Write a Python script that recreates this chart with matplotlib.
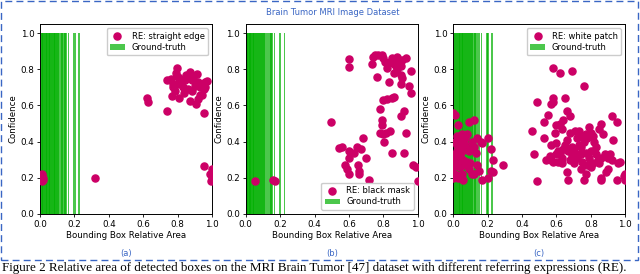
import numpy as np
import matplotlib.pyplot as plt
import matplotlib.patches as patches


# ground-truth relative areas (same dataset for all three panels)
gt_area = [0.004, 0.008, 0.011, 0.014, 0.018, 0.021, 0.025, 0.027, 0.031, 0.034,
           0.038, 0.041, 0.044, 0.048, 0.052, 0.055, 0.058, 0.062, 0.066, 0.069,
           0.073, 0.077, 0.081, 0.085, 0.088, 0.092, 0.097, 0.101, 0.105, 0.109,
           0.114, 0.121, 0.128, 0.133, 0.141, 0.146, 0.152, 0.166, 0.196, 0.203, 0.226]

# (a) RE: straight edge
a_x = [0.005, 0.010, 0.015, 0.010, 0.020, 0.012, 0.32, 0.62, 0.625, 0.735,
       0.74, 0.76, 0.775, 0.79, 0.795, 0.80, 0.81, 0.82, 0.83, 0.77, 0.785, 0.80,
       0.84, 0.85, 0.86, 0.87, 0.875, 0.88, 0.89, 0.90, 0.91, 0.92, 0.93, 0.94,
       0.95, 0.96, 0.97, 0.765, 0.81, 0.835, 0.87, 0.915, 0.93, 0.86, 0.905,
       0.95, 0.95, 1.0, 0.99, 0.995, 1.0, 0.82, 0.885, 0.94, 0.96]
a_y = [0.20, 0.22, 0.19, 0.21, 0.20, 0.185, 0.20, 0.64, 0.62, 0.57,
       0.74, 0.745, 0.72, 0.78, 0.805, 0.76, 0.75, 0.74, 0.70, 0.70, 0.68, 0.72,
       0.74, 0.77, 0.75, 0.785, 0.77, 0.74, 0.75, 0.71, 0.775, 0.73, 0.70, 0.72,
       0.69, 0.73, 0.735, 0.65, 0.64, 0.67, 0.625, 0.635, 0.66, 0.69, 0.61,
       0.56, 0.265, 0.25, 0.22, 0.185, 0.20, 0.735, 0.68, 0.66, 0.70]

# (b) RE: black mask
b_x = [0.055, 0.16, 0.17, 0.495, 0.60, 0.60, 0.54, 0.56, 0.575, 0.59, 0.60,
       0.60, 0.60, 0.63, 0.645, 0.67, 0.68, 0.65, 0.66, 0.66, 0.70, 0.715,
       0.735, 0.75, 0.77, 0.79, 0.80, 0.81, 0.76, 0.78, 0.79, 0.79, 0.78, 0.80,
       0.805, 0.815, 0.84, 0.80, 0.82, 0.85, 0.86, 0.85, 0.82, 0.83, 0.85, 0.86,
       0.87, 0.88, 0.89, 0.90, 0.91, 0.93, 0.86, 0.88, 0.90, 0.90, 0.91, 0.96,
       0.95, 0.96, 0.90, 0.92, 0.92, 0.93, 0.97, 0.99, 1.0, 0.74, 0.84, 0.87]
b_y = [0.185, 0.19, 0.185, 0.51, 0.855, 0.815, 0.365, 0.37, 0.27, 0.25, 0.22,
       0.31, 0.35, 0.34, 0.37, 0.36, 0.42, 0.27, 0.24, 0.22, 0.31, 0.19,
       0.83, 0.88, 0.88, 0.88, 0.86, 0.84, 0.76, 0.58, 0.52, 0.49, 0.45, 0.44,
       0.40, 0.45, 0.46, 0.63, 0.635, 0.64, 0.645, 0.34, 0.81, 0.73, 0.86, 0.83,
       0.85, 0.87, 0.84, 0.82, 0.85, 0.86, 0.78, 0.80, 0.77, 0.72, 0.75, 0.79,
       0.71, 0.67, 0.54, 0.57, 0.34, 0.45, 0.27, 0.26, 0.185, 0.87, 0.84, 0.82]

# (c) RE: white patch
c_x = [0.0, 0.01, 0.03, 0.05, 0.07, 0.09, 0.12, 0.14, 0.16, 0.17, 0.20, 0.22,
       0.23, 0.22, 0.23, 0.20, 0.17, 0.29, 0.15, 0.11, 0.09, 0.07, 0.08, 0.10,
       0.09, 0.05, 0.02, 0.03, 0.02, 0.01, 0.0, 0.0, 0.01, 0.0, 0.02, 0.04,
       0.05, 0.06, 0.03, 0.07, 0.12, 0.13, 0.10, 0.12, 0.06, 0.04, 0.01, 0.08,
       0.02, 0.06, 0.04, 0.14, 0.11,
       0.58, 0.62, 0.69, 0.76, 0.58, 0.58, 0.57, 0.65, 0.49, 0.46, 0.47, 0.49,
       0.53, 0.55, 0.53, 0.56, 0.54, 0.57, 0.58, 0.59, 0.60, 0.61, 0.62, 0.63,
       0.64, 0.66, 0.68, 0.65, 0.66, 0.67, 0.69, 0.70, 0.71, 0.72, 0.73, 0.74,
       0.75, 0.76, 0.77, 0.78, 0.79, 0.80, 0.79, 0.80, 0.81, 0.82, 0.83, 0.84,
       0.85, 0.86, 0.85, 0.86, 0.87, 0.86, 0.86, 0.89, 0.90, 0.91, 0.92, 0.92,
       0.93, 0.95, 0.96, 0.97, 0.95, 1.0, 1.0, 0.99, 0.60, 0.62, 0.63, 0.64,
       0.67, 0.68, 0.70, 0.72, 0.74, 0.76, 0.77, 0.78, 0.75, 0.73, 0.71, 0.69,
       0.66, 0.63, 0.61, 0.74, 0.81, 0.83, 0.88, 0.90, 0.57, 0.60, 0.77, 0.80, 0.68]
c_y = [0.56, 0.55, 0.49, 0.44, 0.42, 0.51, 0.52, 0.42, 0.40, 0.39, 0.42, 0.36,
       0.30, 0.24, 0.23, 0.20, 0.19, 0.27, 0.24, 0.22, 0.25, 0.27, 0.29, 0.36,
       0.35, 0.35, 0.35, 0.40, 0.43, 0.40, 0.30, 0.26, 0.22, 0.20, 0.28, 0.26,
       0.22, 0.30, 0.20, 0.38, 0.37, 0.34, 0.28, 0.22, 0.19, 0.32, 0.33, 0.44,
       0.38, 0.41, 0.37, 0.27, 0.40,
       0.81, 0.78, 0.79, 0.71, 0.64, 0.62, 0.61, 0.64, 0.62, 0.46, 0.33, 0.18,
       0.51, 0.55, 0.42, 0.32, 0.30, 0.30, 0.29, 0.45, 0.39, 0.35, 0.50, 0.47,
       0.52, 0.57, 0.54, 0.38, 0.23, 0.19, 0.32, 0.36, 0.46, 0.42, 0.38, 0.33,
       0.29, 0.19, 0.22, 0.27, 0.31, 0.35, 0.48, 0.45, 0.43, 0.40, 0.33, 0.30,
       0.28, 0.31, 0.47, 0.50, 0.44, 0.20, 0.19, 0.23, 0.25, 0.33, 0.30, 0.54,
       0.41, 0.51, 0.28, 0.29, 0.19, 0.22, 0.19, 0.21, 0.33, 0.34, 0.31, 0.36,
       0.35, 0.30, 0.28, 0.31, 0.37, 0.40, 0.44, 0.42, 0.43, 0.46, 0.34, 0.37,
       0.41, 0.28, 0.29, 0.25, 0.28, 0.37, 0.33, 0.31, 0.38, 0.49, 0.34, 0.26, 0.45]

re_labels = ['RE: straight edge', 'RE: black mask', 'RE: white patch']
panel_tags = ['(a)', '(b)', '(c)']
legend_locs = ['upper right', 'lower right', 'upper right']

dot_color = '#cc0066'
gt_color = '#00b000'
blue = '#3a66c4'

fig = plt.figure(figsize=(6.4, 2.74), dpi=100)

lefts = [0.0625, 0.384, 0.708]
series = [(a_x, a_y), (b_x, b_y), (c_x, c_y)]

for i in range(3):
    ax = fig.add_axes([lefts[i], 0.219, 0.269, 0.693])
    bars = ax.bar(gt_area, [1.0] * len(gt_area), width=0.008, color=gt_color,
                  alpha=0.7, linewidth=0, label='Ground-truth')
    dots = ax.scatter(series[i][0], series[i][1], s=26, color=dot_color,
                      label=re_labels[i], zorder=3)
    ax.set_xlim(0, 1)
    ax.set_ylim(0, 1.05)
    ax.set_xticks(np.arange(0, 1.01, 0.2))
    ax.set_yticks(np.arange(0, 1.01, 0.2))
    ax.tick_params(labelsize=6.3, length=2.5, width=0.6, pad=1.5)
    ax.set_xlabel('Bounding Box Relative Area', fontsize=6.2, labelpad=2)
    ax.set_ylabel('Confidence', fontsize=6.2, labelpad=2)
    for sp in ax.spines.values():
        sp.set_linewidth(0.7)
    ax.legend([dots, bars], [re_labels[i], 'Ground-truth'], loc=legend_locs[i],
              fontsize=6, handlelength=1.8, borderpad=0.4, labelspacing=0.3,
              framealpha=1)
    fig.text(lefts[i] + 0.269 / 2, 0.073, panel_tags[i], color=blue,
             fontsize=6, ha='center', va='center')

fig.text(0.52, 0.956, 'Brain Tumor MRI Image Dataset', color=blue, fontsize=6,
         ha='center', va='center')

border = patches.Rectangle((0.002, 0.051), 0.995, 0.945, transform=fig.transFigure,
                           fill=False, edgecolor=blue, linestyle=(0, (5, 3)),
                           linewidth=1.0)
fig.patches.append(border)

fig.text(0.003, 0.042, 'Figure 2 Relative area of detected boxes on the MRI Brain Tumor [47] '
         'dataset with different referring expressions (RE).',
         family='Liberation Serif', fontsize=9.4, ha='left', va='top')

fig.savefig('out.png', dpi=100)
